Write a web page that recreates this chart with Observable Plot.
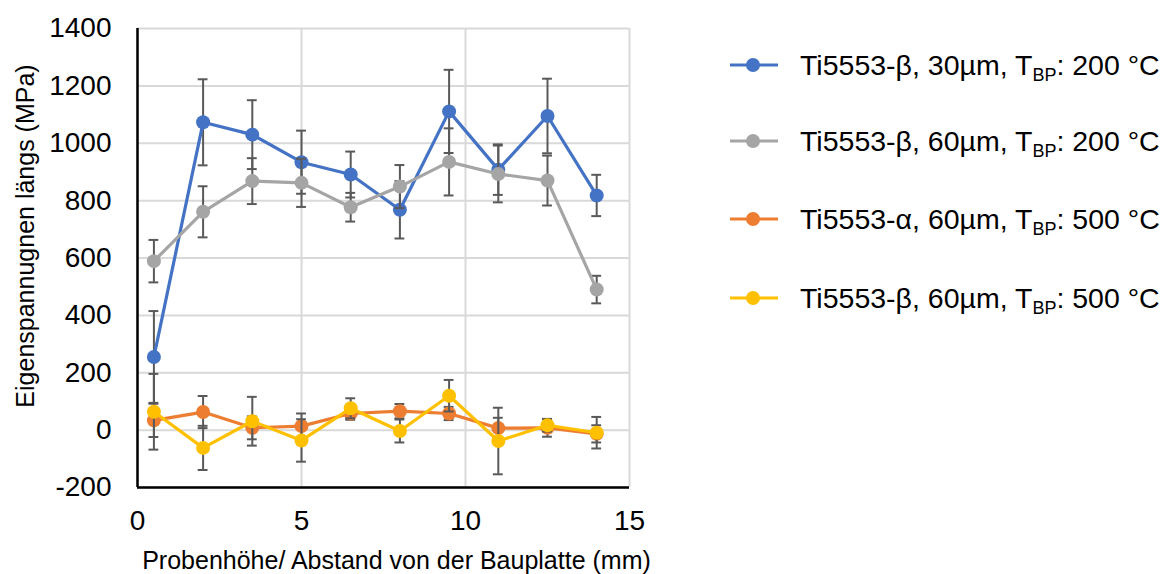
<!DOCTYPE html>
<html><head><meta charset="utf-8">
<script src="https://cdn.jsdelivr.net/npm/d3@7"></script>
<script src="https://cdn.jsdelivr.net/npm/@observablehq/plot@0.6"></script>
<style>
body{margin:0;background:#fff;font-family:"Liberation Sans",Arial,sans-serif;}
#wrap{position:relative;width:1174px;height:574px;}
#legend{position:absolute;left:730px;top:0;}
.item{position:absolute;left:0;display:flex;align-items:center;white-space:nowrap;font-size:28.5px;color:#000;height:32px;}
.item svg{margin-right:22px;}
sub{font-size:18px;vertical-align:-6px;line-height:0;}
</style></head><body><div id="wrap"></div>
<script>
const xs = [0.5, 2, 3.5, 5, 6.5, 8, 9.5, 11, 12.5, 14];
const seriesLabels = [
  ["Ti5553-β, 30µm, T", "BP", ": 200 °C"],
  ["Ti5553-β, 60µm, T", "BP", ": 200 °C"],
  ["Ti5553-α, 60µm, T", "BP", ": 500 °C"],
  ["Ti5553-β, 60µm, T", "BP", ": 500 °C"]
];
const colors = ["#4472C4", "#A5A5A5", "#ED7D31", "#FFC000"];
const blueVals = [255, 1073, 1030, 934, 891, 768, 1111, 908, 1095, 818];
const blueErr = [160, 150, 120, 110, 80, 100, 145, 88, 130, 72];
const grayVals = [589, 761, 868, 862, 777, 849, 935, 893, 870, 490];
const grayErr = [74, 89, 80, 84, 50, 75, 117, 99, 87, 48];
const orangeVals = [34, 63, 8, 14, 58, 66, 58, 7, 8, -13];
const orangeErr = [58, 56, 40, 44, 22, 25, 23, 36, 31, 30];
const yellowVals = [64, -62, 31, -36, 76, -3, 120, -38, 17, -9];
const yellowErr = [132, 77, 85, 74, 35, 40, 55, 116, 22, 55];
const xTicks = [0, 5, 10, 15];
const yTicks = [-200, 0, 200, 400, 600, 800, 1000, 1200, 1400];
const yTitle = "Eigenspannugnen längs (MPa)";
const xTitle = "Probenhöhe/ Abstand von der Bauplatte (mm)";

const allVals = [blueVals, grayVals, orangeVals, yellowVals];
const allErr = [blueErr, grayErr, orangeErr, yellowErr];
const rows = allVals.map((vals, s) => xs.map((x, i) => ({s, x, y: vals[i], e: allErr[s][i]})));

const cap = 0.15;
const marks = [
  Plot.gridX(xTicks, {stroke: "#d9d9d9", strokeOpacity: 1, strokeWidth: 2}),
  Plot.gridY(yTicks, {stroke: "#d9d9d9", strokeOpacity: 1, strokeWidth: 2}),
];
rows.forEach((data, s) => {
  marks.push(
    Plot.ruleX(data, {x: "x", y1: d => d.y - d.e, y2: d => d.y + d.e, stroke: "#595959", strokeWidth: 2}),
    Plot.ruleY(data, {y: d => d.y + d.e, x1: d => d.x - cap, x2: d => d.x + cap, stroke: "#595959", strokeWidth: 2}),
    Plot.ruleY(data, {y: d => d.y - d.e, x1: d => d.x - cap, x2: d => d.x + cap, stroke: "#595959", strokeWidth: 2}),
    Plot.line(data, {x: "x", y: "y", stroke: colors[s], strokeWidth: 3.2}),
    Plot.dot(data, {x: "x", y: "y", fill: colors[s], r: 7})
  );
});
marks.push(
  Plot.ruleX([0], {stroke: "#000", strokeWidth: 2.5}),
  Plot.ruleY([-200], {stroke: "#000", strokeWidth: 2.5}),
  Plot.axisX({ticks: xTicks, tickSize: 0, tickPadding: 23, label: null, tickFormat: d => String(d)}),
  Plot.axisY({ticks: yTicks, tickSize: 0, tickPadding: 26, label: null, tickFormat: d => String(d)}),
  Plot.text([yTitle], {frameAnchor: "left", rotate: -90, dx: -112, dy: -22, textAnchor: "middle", lineAnchor: "middle", fontSize: 25}),
  Plot.text([xTitle], {frameAnchor: "bottom", dx: 13, dy: 73, textAnchor: "middle", lineAnchor: "middle", fontSize: 25})
);

const chart = Plot.plot({
  width: 1174,
  height: 574,
  marginLeft: 137,
  marginRight: 545,
  marginTop: 28,
  marginBottom: 87,
  x: {domain: [0, 15]},
  y: {domain: [-200, 1400]},
  style: {fontFamily: '"Liberation Sans", Arial, sans-serif', fontSize: "25px", color: "#000", background: "#fff"},
  marks
});
const wrap = document.getElementById("wrap");
wrap.appendChild(chart);
d3.select(chart).selectAll('g[aria-label*="tick label"]').style("font-size", "28px").attr("font-size", "28px");
d3.select(chart).selectAll('g[aria-label*="tick label"] text').style("font-size", "28px");

const legend = document.createElement("div");
legend.id = "legend";
const legendY = [65, 141, 219, 298];
seriesLabels.forEach((lab, s) => {
  const it = document.createElement("div");
  it.className = "item";
  it.style.top = (legendY[s] - 16) + "px";
  it.innerHTML = `<svg width="48" height="16"><line x1="0" y1="8" x2="48" y2="8" stroke="${colors[s]}" stroke-width="3"/><circle cx="23" cy="8" r="7" fill="${colors[s]}"/></svg><span>${lab[0]}<sub>${lab[1]}</sub>${lab[2]}</span>`;
  legend.appendChild(it);
});
wrap.appendChild(legend);
</script></body></html>
